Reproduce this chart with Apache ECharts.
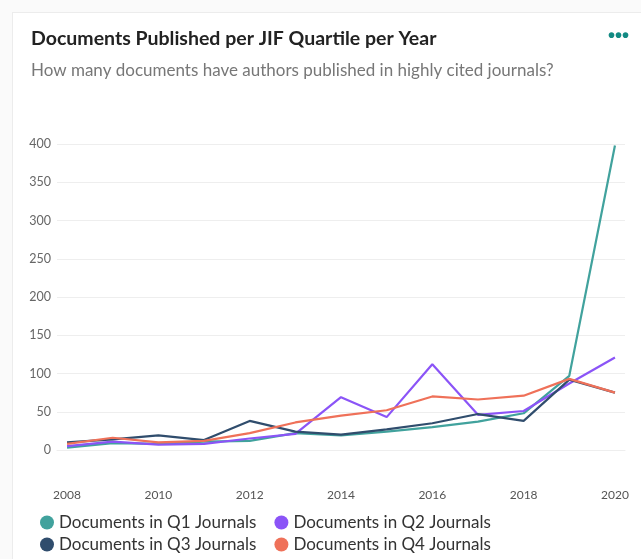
<!DOCTYPE html>
<html>
<head>
<meta charset="utf-8">
<script src="https://cdn.jsdelivr.net/npm/echarts@6/dist/echarts.min.js"></script>
<style>
html,body{margin:0;padding:0;background:#fafafa;}
#card{position:absolute;left:12px;top:12px;width:640px;height:560px;background:#fff;border:1px solid #ececec;box-sizing:border-box;}
#chart{position:absolute;left:0;top:0;width:641px;height:559px;}
</style>
</head>
<body>
<div id="card"></div>
<div id="chart"></div>
<script>
const years = [2008,2009,2010,2011,2012,2013,2014,2015,2016,2017,2018,2019,2020];
const xTickLabels = [2008,2010,2012,2014,2016,2018,2020];
const seriesNames = ['Documents in Q1 Journals','Documents in Q2 Journals','Documents in Q3 Journals','Documents in Q4 Journals'];
const q1 = [3, 9, 8, 11, 12, 22, 19, 24, 30, 37, 48, 97, 398];
const q2 = [5, 11, 7, 8, 15, 21, 69, 43, 112, 46, 51, 87, 121];
const q3 = [10, 14, 19, 13, 38, 24, 20, 27, 35, 47, 38, 92, 75];
const q4 = [8, 16, 10, 12, 22, 36, 45, 52, 70, 66, 71, 93, 75];
const colors = ['#41a29d','#8b54f7','#304d6d','#ef7159'];

const chart = echarts.init(document.getElementById('chart'), null, {renderer:'canvas'});
const dataSets = [q1,q2,q3,q4];
const FONT = 'Lato, "Noto Sans", sans-serif';
const legendBase = {
  icon: 'circle', itemWidth: 14, itemHeight: 14, itemGap: 18, padding: 0,
  textStyle: {fontFamily: FONT, fontSize: 17, color: '#333'}
};
chart.setOption({
  backgroundColor: 'transparent',
  animation: false,
  title: {
    text: 'Documents Published per JIF Quartile per Year',
    subtext: 'How many documents have authors published in highly cited journals?',
    left: 31, top: 29, padding: 0,
    itemGap: 13,
    textStyle: {fontFamily: FONT, fontSize: 19.5, fontWeight: 'bold', color: '#222'},
    subtextStyle: {fontFamily: FONT, fontSize: 17, color: '#777'}
  },
  graphic: [{
    type: 'text', right: 12, top: 26,
    style: {text: '•••', fill: '#138a83', font: 'bold 20px sans-serif'}
  }],
  legend: [
    Object.assign({data: [seriesNames[0], seriesNames[1]], left: 40, top: 514}, legendBase),
    Object.assign({data: [seriesNames[2], seriesNames[3]], left: 40, top: 536}, legendBase)
  ],
  grid: {left: 57, right: 16, top: 144, bottom: 109, containLabel: false},
  xAxis: {
    type: 'value', min: 2007.78, max: 2020.22,
    offset: 28,
    axisLine: {show: true, lineStyle: {color: '#eeeeee', width: 1}},
    axisTick: {show: false},
    splitLine: {show: false},
    axisLabel: {customValues: xTickLabels, formatter: v => String(v), color: '#555', fontSize: 12, fontFamily: FONT, margin: 11}
  },
  yAxis: {
    type: 'value', min: 0, max: 400, interval: 50,
    axisLine: {show: false}, axisTick: {show: false},
    splitLine: {lineStyle: {color: '#eeeeee', width: 1}},
    axisLabel: {color: '#666', fontSize: 12.5, fontFamily: FONT, margin: 6}
  },
  series: seriesNames.map((n, i) => ({
    name: n, type: 'line', showSymbol: false, symbol: 'circle',
    data: years.map((y, j) => [y, dataSets[i][j]]),
    lineStyle: {width: 2.2, color: colors[i]},
    itemStyle: {color: colors[i]},
    clip: false
  }))
});
</script>
</body>
</html>
